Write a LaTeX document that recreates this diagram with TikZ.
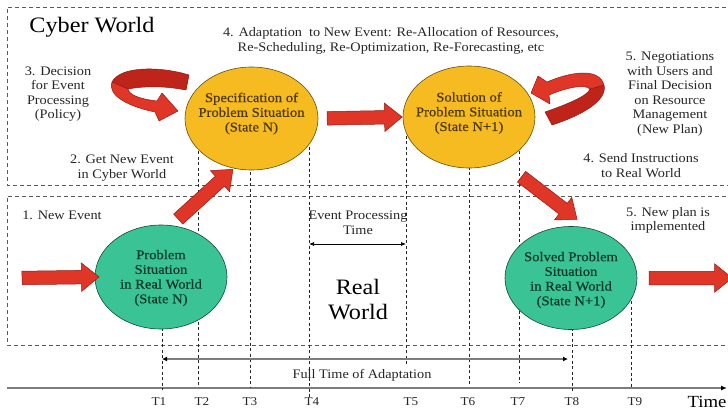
\documentclass[tikz,border=0pt]{standalone}
\usepackage{fontspec}
\setmainfont{Liberation Serif}[FakeStretch=1.1]
\newfontfamily\statefont{Liberation Serif}[FakeStretch=1.1, FakeBold=0.7]
\usetikzlibrary{arrows.meta,shapes.geometric,shapes.arrows}

\definecolor{boxgray}{RGB}{90,90,90}
\definecolor{orangefill}{RGB}{246,187,32}
\definecolor{orangeedge}{RGB}{105,78,12}
\definecolor{greenfill}{RGB}{58,196,150}
\definecolor{greenedge}{RGB}{22,70,52}
\definecolor{orangetext}{RGB}{78,58,8}
\definecolor{greentext}{RGB}{12,58,40}
\definecolor{arrowred}{RGB}{224,54,40}
\definecolor{arrowback}{RGB}{190,36,26}
\definecolor{arrowdark}{RGB}{150,24,16}
\definecolor{axisgray}{RGB}{125,125,125}
\definecolor{notetext}{RGB}{38,38,38}

\tikzset{
  worldbox/.style={draw=boxgray, line width=0.9pt, dash pattern=on 4pt off 3pt},
  tline/.style={draw=black!85, line width=0.75pt, dash pattern=on 3pt off 2.5pt},
  state/.style={ellipse, inner sep=0pt, minimum width=133pt, minimum height=103pt,
    line width=0.6pt},
  statetext/.style={align=center, inner sep=0pt,
    font=\statefont\fontsize{13.3}{14.7}\selectfont},
  orangestate/.style={state, fill=orangefill, draw=orangeedge},
  greenstate/.style={state, fill=greenfill, draw=greenedge},
  note/.style={align=center, text=notetext, inner sep=0pt,
    font=\fontsize{13}{14.6}\selectfont},
  bigtitle/.style={align=center, text=black, inner sep=0pt,
    font=\fontsize{22}{25}\selectfont},
  blockarrow/.style={single arrow, sloped, fill=arrowred, draw=arrowdark,
    line width=0.5pt, inner xsep=0pt, inner ysep=6.5pt,
    single arrow head extend=7.5pt, single arrow tip angle=78},
  ribbonfront/.style={fill=arrowred, draw=arrowdark, line width=0.5pt, line join=round},
  ribbonback/.style={fill=arrowback, draw=arrowdark, line width=0.5pt, line join=round},
  timeaxis/.style={draw=axisgray, line width=1.8pt},
  ticklabel/.style={inner sep=0pt, text=notetext, font=\fontsize{12}{14}\selectfont},
}

\begin{document}
\begin{tikzpicture}[x=1pt, y=-1pt]
  \clip (0,0) rectangle (728,412);
  \fill[white] (0,0) rectangle (728,412);

  % the two worlds, open to the right
  \draw[worldbox] (740,7) -- (7,7) -- (7,185) -- (740,185);
  \draw[worldbox] (740,196) -- (7,196) -- (7,345) -- (740,345);

  % time axis and moments T1..T9
  \coordinate (axL) at (7,388);
  \coordinate (axR) at (727,388);
  \draw[timeaxis, -{Latex[length=6pt, width=5pt, color=black]}] (axL) -- (axR);

  \draw[tline] (162,300) -- (162,390);
  \draw[tline] (198,140) -- (198,386);
  \draw[tline] (250,150) -- (250,388);
  \draw[tline] (309,130) -- (309,397);
  \draw[tline] (406,130) -- (406,366);
  \draw[tline] (469,150) -- (469,386);
  \draw[tline] (519,140) -- (519,383);
  \draw[tline] (572,300) -- (572,392);
  \draw[tline] (631,290) -- (631,388);

  % states
  \node[orangestate, label={[statetext, text=orangetext, yshift=5pt]center:{Specification of\\Problem Situation\\(State N)}}]
    (spec) at (251.5,118.5) {};
  \node[orangestate, minimum width=132pt, minimum height=102pt,
    label={[statetext, text=orangetext, yshift=4pt]center:{Solution of\\Problem Situation\\(State N+1)}}]
    (sol) at (469,117) {};
  \node[greenstate, minimum width=132pt, minimum height=104pt,
    label={[statetext, text=greentext, yshift=-1pt]center:{Problem\\Situation\\in Real World\\(State N)}}]
    (prob) at (161,277) {};
  \node[greenstate, minimum width=132pt,
    label={[statetext, text=greentext, yshift=-2pt]center:{Solved Problem\\Situation\\in Real World\\(State N+1)}}]
    (solved) at (571,278) {};

  % block arrows
  \coordinate (aTail) at (18,278);
  \path (aTail) -- node[blockarrow, minimum height=77pt] {} (prob.west);
  \coordinate (bTail) at (175,222);
  \coordinate (bTip) at (230,172);
  \path (bTail) -- node[blockarrow, minimum height=74pt] {} (bTip);
  \path (spec.east) -- node[blockarrow, minimum height=75pt] {} (sol.west);
  \coordinate (dTail) at (518,174);
  \coordinate (dTip) at (574,217);
  \path (dTail) -- node[blockarrow, minimum height=70pt] {} (dTip);
  \coordinate (eTail) at (645,278);
  \coordinate (eTip) at (728,278);
  \path (eTail) -- node[blockarrow, minimum height=83pt] {} (eTip);

  % curled ribbon arrow onto the specification
  \filldraw[ribbonback] (189,75) .. controls (160,66) and (120,66) .. (112,82)
    -- (128,89) .. controls (150,85) and (170,87) .. (186,90) -- cycle;
  \filldraw[ribbonfront] (112,82) .. controls (107,96) and (130,107) .. (155,112)
    -- (159,121) -- (178,111) -- (162,93) -- (157,101)
    .. controls (140,99) and (129,95) .. (128,89) -- cycle;

  % curled ribbon arrow onto the solution
  \filldraw[ribbonback] (604,85) .. controls (608,101) and (580,116) .. (552,125)
    -- (545,112) .. controls (565,105) and (588,96) .. (590,89) -- cycle;
  \filldraw[ribbonfront] (531,93) -- (538,76) -- (547,82)
    .. controls (570,72) and (599,67) .. (604,85)
    -- (590,89) .. controls (585,84) and (568,87) .. (549,95)
    -- (550,104) -- cycle;

  % durations
  \coordinate (epL) at (309,244);
  \coordinate (epR) at (406,244);
  \draw[black, line width=0.7pt, {Latex[length=5pt, width=4pt]}-{Latex[length=5pt, width=4pt]}] (epL) -- (epR);
  \coordinate (ftL) at (162,359);
  \coordinate (ftR) at (568,359);
  \draw[draw=axisgray, line width=1.8pt,
    {Latex[length=5pt, width=5pt, color=black]}-{Latex[length=5pt, width=5pt, color=black]}] (ftL) -- (ftR);

  % titles
  \node[bigtitle] (cyber) at (92,27) {Cyber World};
  \node[bigtitle] (real) at (358,299.5) {Real\\World};

  % notes
  \node[note] (n3) at (58,94) {3. Decision\\for Event\\Processing\\(Policy)};
  \node[note] (n2) at (122,168) {2. Get New Event\\in Cyber World};
  \node[note] (n4) at (391,41) {4. Adaptation\ \ to New Event: Re-Allocation\ of Resources,\\Re-Scheduling,\ Re-Optimization,\ Re-Forecasting,\ etc};
  \node[note] (n5) at (670,94) {5. Negotiations\\with Users and\\Final Decision\\on Resource\\Management\\(New Plan)};
  \node[note] (n4b) at (641,165.5) {4. Send Instructions\\to Real World};
  \node[note] (n1) at (62,215) {1. New Event};
  \node[note] (ept) at (358,222.5) {Event Processing\\Time};
  \node[note] (n5b) at (668,220.5) {5. New plan is\\implemented};
  \node[note] (fta) at (362,375) {Full Time of Adaptation};

  % moment labels
  \node[ticklabel] (l1) at (159,402) {T1};
  \node[ticklabel] (l2) at (202,402) {T2};
  \node[ticklabel] (l3) at (250,402) {T3};
  \node[ticklabel] (l4) at (312,402) {T4};
  \node[ticklabel] (l5) at (411,402) {T5};
  \node[ticklabel] (l6) at (468,402) {T6};
  \node[ticklabel] (l7) at (518,402) {T7};
  \node[ticklabel] (l8) at (572,402) {T8};
  \node[ticklabel] (l9) at (635,402) {T9};
  \node[inner sep=0pt, text=black, font=\fontsize{17}{20}\selectfont] (time) at (707,402) {Time};
\end{tikzpicture}
\end{document}
